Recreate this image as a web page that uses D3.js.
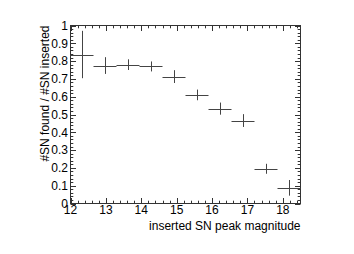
<!DOCTYPE html>
<html><head><meta charset="utf-8">
<script src="https://cdn.jsdelivr.net/npm/d3@7"></script>
<style>body{margin:0;background:#fff}svg{display:block}text{font-family:"Liberation Sans",Arial,sans-serif;fill:#000}</style>
</head><body><div id="chart"></div>
<script>
const binCenters = [12.325, 12.975, 13.625, 14.275, 14.925, 15.575, 16.225, 16.875, 17.525, 18.175];
const efficiency = [0.837, 0.775, 0.780, 0.770, 0.713, 0.610, 0.533, 0.466, 0.195, 0.088];
const errors = [0.133, 0.047, 0.030, 0.028, 0.036, 0.030, 0.034, 0.036, 0.028, 0.044];
const binHalfWidth = 0.325;
const xTicks = [12, 13, 14, 15, 16, 17, 18];
const yTicks = [0, 0.1, 0.2, 0.3, 0.4, 0.5, 0.6, 0.7, 0.8, 0.9, 1];

const W = 354, H = 254;
const m = {l: 70.5, r: 300.5, t: 25.5, b: 203.5};
const svg = d3.select("#chart").append("svg").attr("width", W).attr("height", H);
const x = d3.scaleLinear().domain([12, 18.5]).range([m.l, m.r]);
const y = d3.scaleLinear().domain([0, 1]).range([m.b, m.t]);
const axCol = "#333";

// frame
svg.append("rect").attr("x", m.l).attr("y", m.t).attr("width", m.r - m.l).attr("height", m.b - m.t)
  .attr("fill", "none").attr("stroke", axCol).attr("stroke-width", 1);

// ticks
const xMinor = d3.range(12, 18.5001, 0.2);
const yMinor = d3.range(0, 1.0001, 0.02);
const tg = svg.append("g").attr("stroke", axCol).attr("stroke-width", 1);
xMinor.forEach(v => {
  const major = Math.abs(v - Math.round(v)) < 1e-6;
  const len = major ? 5.5 : 2.8;
  const px = Math.round(x(v)) + 0.5;
  tg.append("line").attr("x1", px).attr("x2", px).attr("y1", m.b).attr("y2", m.b - len);
  tg.append("line").attr("x1", px).attr("x2", px).attr("y1", m.t).attr("y2", m.t + len);
});
yMinor.forEach(v => {
  const major = Math.abs(v * 10 - Math.round(v * 10)) < 1e-6;
  const len = major ? 5.5 : 2.8;
  const py = Math.round(y(v)) + 0.5;
  tg.append("line").attr("y1", py).attr("y2", py).attr("x1", m.l).attr("x2", m.l + len);
  tg.append("line").attr("y1", py).attr("y2", py).attr("x1", m.r).attr("x2", m.r - len);
});

// tick labels
svg.append("g").selectAll("text").data(xTicks).join("text")
  .attr("x", d => x(d)).attr("y", 214).attr("text-anchor", "middle")
  .attr("font-size", 12).text(d => d);
svg.append("g").selectAll("text").data(yTicks).join("text")
  .attr("x", 68).attr("y", d => y(d) + 4.3).attr("text-anchor", "end")
  .attr("font-size", 12).text(d => d);

// axis titles
svg.append("text").attr("x", m.r).attr("y", 230).attr("text-anchor", "end")
  .attr("font-size", 12).text("inserted SN peak magnitude");
svg.append("text").attr("transform", `translate(49,${m.t}) rotate(-90)`)
  .attr("text-anchor", "end").attr("font-size", 12).text("#SN found / #SN inserted");

// data points
const g = svg.append("g").attr("stroke", "#444").attr("stroke-width", 1).attr("fill", "none");
binCenters.forEach((c, i) => {
  const py = Math.round(y(efficiency[i])) + 0.5;
  const px = Math.round(x(c)) + 0.5;
  g.append("line").attr("x1", x(c - binHalfWidth)).attr("x2", x(c + binHalfWidth)).attr("y1", py).attr("y2", py);
  g.append("line").attr("x1", px).attr("x2", px)
    .attr("y1", y(Math.min(1, efficiency[i] + errors[i]))).attr("y2", y(efficiency[i] - errors[i]));
});
</script></body></html>
